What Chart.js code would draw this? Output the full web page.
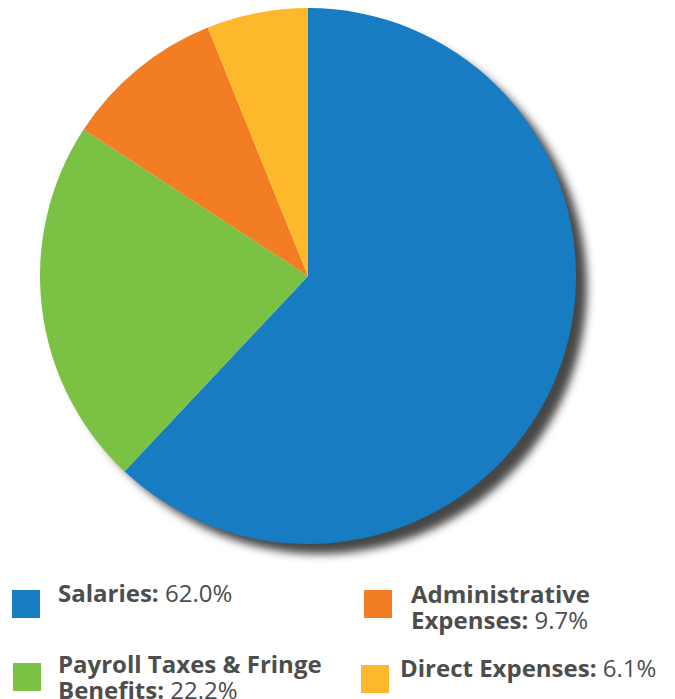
<!DOCTYPE html>
<html>
<head>
<meta charset="utf-8">
<script src="https://cdn.jsdelivr.net/npm/chart.js@4.4.1/dist/chart.umd.min.js"></script>
<style>
  html, body { margin: 0; padding: 0; background: #fff; }
  body { width: 675px; height: 699px; position: relative; overflow: hidden; font-family: "Open Sans", sans-serif; }
  #wrap { position: absolute; left: 0; top: 0; width: 616px; height: 570px; }
  .item { position: absolute; color: #4d4d4d; font-size: 24px; line-height: 26px; white-space: normal; }
  .item b { font-weight: 700; }
  .sw { position: absolute; width: 28px; height: 28px; }
</style>
</head>
<body>
<div id="wrap"><canvas id="myChart"></canvas></div>
<div id="legend"></div>
<script>
const labels = ['Salaries', 'Payroll Taxes & Fringe Benefits', 'Administrative Expenses', 'Direct Expenses'];
const values = [62.0, 22.2, 9.7, 6.1];
const colors = ['#177cc1', '#7bc143', '#f37d22', '#fdb92b'];

// legend box placement: [swatchX, swatchY, textX, textY, textWidth]
const legendPos = [
  [12, 590, 58, 580, 300],
  [13, 663, 58, 651, 290],
  [364, 590, 411, 581, 230],
  [361, 665, 400, 655, 275]
];

const shadow = {
  id: 'shadow',
  beforeDatasetsDraw(chart) {
    const arc = chart.getDatasetMeta(0).data[0];
    if (!arc) return;
    const ctx = chart.ctx;
    ctx.save();
    ctx.shadowColor = 'rgba(55,55,55,0.92)';
    ctx.shadowBlur = 9;
    ctx.shadowOffsetX = 12;
    ctx.shadowOffsetY = 11;
    ctx.fillStyle = '#fff';
    ctx.beginPath();
    ctx.arc(arc.x, arc.y, arc.outerRadius - 1, 0, Math.PI * 2);
    ctx.fill();
    ctx.restore();
  }
};

new Chart(document.getElementById('myChart'), {
  type: 'pie',
  data: {
    labels: labels,
    datasets: [{
      data: values,
      backgroundColor: colors,
      borderWidth: 0
    }]
  },
  options: {
    responsive: true,
    maintainAspectRatio: false,
    animation: false,
    layout: { padding: { top: 8, bottom: 26, left: 40, right: 40 } },
    plugins: {
      legend: { display: false },
      tooltip: { enabled: false }
    }
  },
  plugins: [shadow]
});

const legend = document.getElementById('legend');
labels.forEach((l, i) => {
  const p = legendPos[i];
  const sw = document.createElement('div');
  sw.className = 'sw';
  sw.style.left = p[0] + 'px';
  sw.style.top = p[1] + 'px';
  sw.style.background = colors[i];
  legend.appendChild(sw);
  const t = document.createElement('div');
  t.className = 'item';
  t.style.left = p[2] + 'px';
  t.style.top = p[3] + 'px';
  t.style.width = p[4] + 'px';
  t.innerHTML = '<b>' + l.replace('&', '&amp;') + ':</b> ' + values[i].toFixed(1) + '%';
  legend.appendChild(t);
});
</script>
</body>
</html>
